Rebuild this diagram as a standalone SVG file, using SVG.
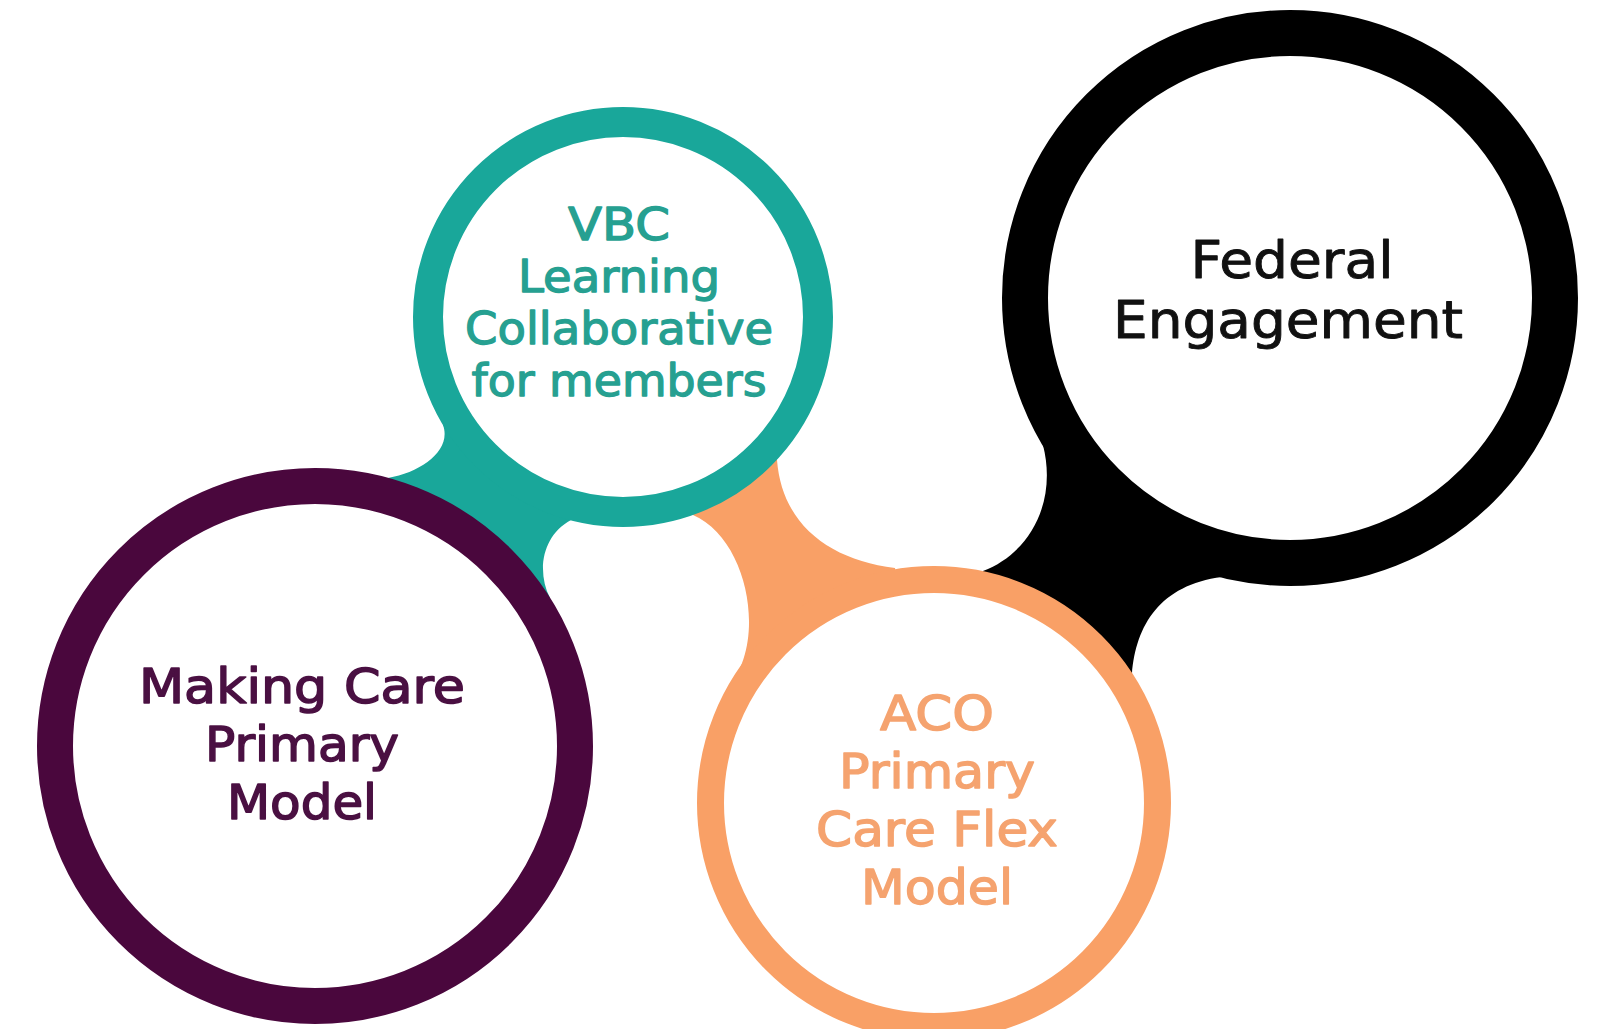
<svg xmlns="http://www.w3.org/2000/svg" width="1603" height="1029" viewBox="0 0 1603 1029">
<style>
.ring{fill:#ffffff}
.lbl{font-family:"DejaVu Sans","Liberation Sans",sans-serif;text-anchor:middle;stroke-linejoin:round}
.purple-t{fill:#4a1042;stroke:#4a1042;stroke-width:1.5;font-size:48px}
.teal-t{fill:#26a091;stroke:#26a091;stroke-width:1.3;font-size:45px}
.orange-t{fill:#f5a36f;stroke:#f5a36f;stroke-width:1.4;font-size:48px}
.black-t{fill:#111111;stroke:#111111;stroke-width:0.9;font-size:52px}
</style>
<rect width="1603" height="1029" fill="#ffffff"/>
<g id="connectors">
  <path id="conn-teal-purple" fill="#19a79a" d="M 443 425 C 452 450 422 472 388 478 L 315 746 L 550 598 C 536 570 543 535 571 520 L 623 317 Z"/>
  <path id="conn-teal-orange" fill="#f9a066" d="M 693 515 C 750 540 768 645 726 690 L 934 803 L 895 568 C 830 560 782 525 777 460 L 623 317 Z"/>
  <path id="conn-black-orange" fill="#000000" d="M 1043 445 C 1057 500 1032 552 983 571 L 934 803 L 1132 674 C 1136 625 1160 585 1222 577 L 1290 298 Z"/>
</g>
<g id="node-making-care">
  <circle class="ring" cx="315" cy="746" r="260" stroke="#4a073d" stroke-width="36"/>
  <text class="lbl purple-t" x="302" y="703" textLength="326" lengthAdjust="spacingAndGlyphs">Making Care</text>
  <text class="lbl purple-t" x="302" y="761" textLength="194" lengthAdjust="spacingAndGlyphs">Primary</text>
  <text class="lbl purple-t" x="302" y="819" textLength="150" lengthAdjust="spacingAndGlyphs">Model</text>
</g>
<g id="node-vbc">
  <circle class="ring" cx="623" cy="317" r="195" stroke="#19a79a" stroke-width="30"/>
  <text class="lbl teal-t" x="619" y="240" textLength="102" lengthAdjust="spacingAndGlyphs">VBC</text>
  <text class="lbl teal-t" x="619" y="292" textLength="202" lengthAdjust="spacingAndGlyphs">Learning</text>
  <text class="lbl teal-t" x="619" y="344" textLength="308" lengthAdjust="spacingAndGlyphs">Collaborative</text>
  <text class="lbl teal-t" x="619" y="396" textLength="295" lengthAdjust="spacingAndGlyphs">for members</text>
</g>
<g id="node-aco">
  <circle class="ring" cx="934" cy="803" r="223.5" stroke="#f9a066" stroke-width="27"/>
  <text class="lbl orange-t" x="937" y="730" textLength="114" lengthAdjust="spacingAndGlyphs">ACO</text>
  <text class="lbl orange-t" x="937" y="788" textLength="196" lengthAdjust="spacingAndGlyphs">Primary</text>
  <text class="lbl orange-t" x="937" y="846" textLength="242" lengthAdjust="spacingAndGlyphs">Care Flex</text>
  <text class="lbl orange-t" x="937" y="904" textLength="152" lengthAdjust="spacingAndGlyphs">Model</text>
</g>
<g id="node-federal">
  <circle class="ring" cx="1290" cy="298" r="265" stroke="#000000" stroke-width="46"/>
  <text class="lbl black-t" x="1292" y="278" textLength="203" lengthAdjust="spacingAndGlyphs">Federal</text>
  <text class="lbl black-t" x="1288" y="338" textLength="350" lengthAdjust="spacingAndGlyphs">Engagement</text>
</g>
</svg>
